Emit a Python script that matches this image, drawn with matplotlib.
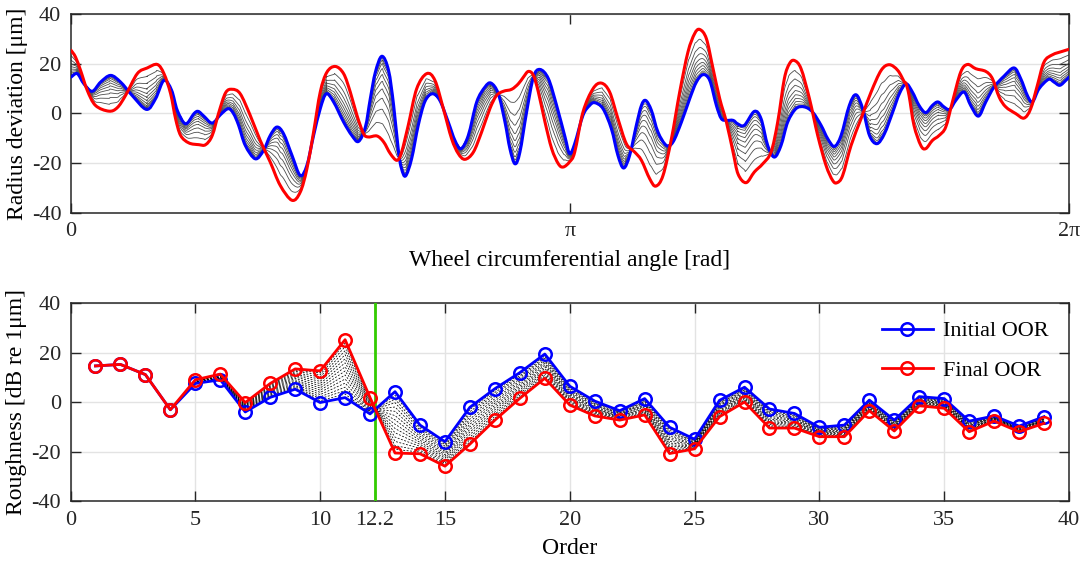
import numpy as np
import matplotlib
matplotlib.use("Agg")
import matplotlib.pyplot as plt
from matplotlib.path import Path
from matplotlib.patches import PathPatch

plt.rcParams['font.family'] = ['Liberation Serif', 'DejaVu Serif']
plt.rcParams['axes.unicode_minus'] = False

# ---------------- top panel data (angle in rad, radius deviation in um) ----------------
blue_theta = [0.000, 0.039, 0.081, 0.133, 0.186, 0.249, 0.312, 0.385, 0.475, 0.532, 0.585, 0.633, 0.669,
              0.721, 0.774, 0.801, 0.836, 0.889, 0.941, 0.990,
              1.023, 1.055, 1.097, 1.160, 1.212, 1.254, 1.296, 1.338, 1.391, 1.443, 1.485, 1.527, 1.569,
              1.607, 1.653, 1.716, 1.768, 1.810, 1.853, 1.884, 1.916, 1.957, 1.999, 2.031, 2.062,
              2.081, 2.106, 2.144, 2.186, 2.228, 2.275, 2.322, 2.375, 2.417, 2.455, 2.501, 2.554, 2.606,
              2.644, 2.690, 2.732, 2.763, 2.795, 2.826, 2.868, 2.911, 2.952, 3.005, 3.057, 3.110,
              3.139, 3.171, 3.223, 3.265, 3.297, 3.349, 3.402, 3.443, 3.479, 3.517, 3.559, 3.591, 3.618,
              3.654, 3.695, 3.748, 3.790, 3.843, 3.895, 3.937, 3.979, 4.021, 4.063, 4.094, 4.126, 4.168,
              4.197, 4.239, 4.302, 4.344, 4.386, 4.428, 4.470, 4.512, 4.564, 4.617, 4.669, 4.722, 4.764,
              4.806, 4.848, 4.900, 4.942, 4.984, 5.027, 5.074, 5.121, 5.173, 5.215, 5.257,
              5.297, 5.339, 5.381, 5.423, 5.458, 5.496, 5.532, 5.570, 5.622, 5.664, 5.713, 5.759, 5.811,
              5.874, 5.937, 5.979, 6.021, 6.053, 6.094, 6.154, 6.189, 6.225, 6.263, 6.283]
blue_r = [14.6, 16.0, 11.9, 8.9, 12.6, 15.3, 12.6, 7.2, 1.6, 5.9, 13.3, 9.3, 1.2,
          -4.2, -0.1, 0.8, -1.1, -3.9, -0.5, 1.9,
          -0.1, -4.8, -12.9, -18.3, -14.9, -8.9, -5.5, -8.2, -16.9, -25.0, -20.9, -8.9, 1.9,
          7.9, 4.6, -3.5, -8.9, -11.3, -5.5, 5.9, 16.6, 23.0, 17.3, 3.2, -15.6,
          -22.3, -25.2, -18.3, -4.8, 4.8, 7.9, 5.2, -3.5, -10.9, -14.2, -8.9, 4.6, 10.6,
          12.2, 7.9, -3.5, -14.2, -20.3, -15.6, 0.5, 14.6, 17.7, 14.0, 3.2, -9.5,
          -16.2, -12.2, -0.8, 3.2, 4.3, 1.9, -6.2, -16.9, -22.0, -16.9, -4.8, 3.2, 5.2,
          1.2, -7.5, -12.9, -11.5, -3.5, 5.9, 12.6, 15.6, 13.3, 3.2, -2.1, -2.8, -2.8,
          -4.2, -4.8, 0.8, -2.1, -12.9, -17.6, -12.9, -3.5, 1.9, 2.6, 0.5, -4.8, -10.2,
          -13.3, -8.9, 3.2, 7.5, 1.9, -8.9, -12.2, -8.2, 0.5, 7.9, 11.9,
          8.6, 3.2, 0.3, 3.2, 4.6, 2.6, 1.6, 5.2, 8.6, 3.2, -1.1, 4.6, 10.6,
          15.0, 18.3, 14.0, 7.2, 4.6, 9.9, 13.7, 12.6, 11.3, 13.3, 14.6]

red_theta = [0.000, 0.028, 0.060, 0.102, 0.154, 0.238, 0.291, 0.343, 0.417, 0.480, 0.543, 0.585, 0.627,
             0.658, 0.690, 0.742, 0.805, 0.847, 0.889, 0.931, 0.973, 1.015,
             1.065, 1.128, 1.191, 1.254, 1.317, 1.391, 1.443, 1.485, 1.527, 1.569, 1.611, 1.664, 1.716,
             1.758, 1.800, 1.842, 1.873, 1.926, 1.968, 2.010, 2.052,
             2.081, 2.123, 2.176, 2.239, 2.291, 2.344, 2.396, 2.438, 2.480, 2.533, 2.585, 2.637, 2.679,
             2.722, 2.774, 2.816, 2.848, 2.879, 2.911, 2.942, 2.984, 3.026, 3.068, 3.099,
             3.139, 3.171, 3.223, 3.286, 3.339, 3.391, 3.443, 3.496, 3.549, 3.591, 3.643, 3.681, 3.727,
             3.780, 3.832, 3.884, 3.926, 3.958, 4.000, 4.042, 4.084, 4.126, 4.168,
             4.200, 4.250, 4.302, 4.355, 4.407, 4.449, 4.491, 4.523, 4.554, 4.596, 4.649, 4.701, 4.753,
             4.795, 4.823, 4.858, 4.911, 4.974, 5.037, 5.100, 5.152, 5.205, 5.247, 5.257,
             5.276, 5.307, 5.350, 5.381, 5.423, 5.465, 5.507, 5.549, 5.601, 5.644, 5.696, 5.759, 5.801,
             5.843, 5.885, 5.948, 6.000, 6.042, 6.084, 6.126, 6.179, 6.242, 6.283]
red_r = [25.4, 22.7, 17.3, 9.3, 3.2, 0.9, 2.3, 7.2, 16.0, 18.3, 19.7, 16.0, 7.9,
         -2.1, -8.9, -11.9, -12.6, -12.6, -8.9, 0.5, 8.3, 9.7,
         7.9, -0.8, -10.9, -19.6, -29.0, -35.0, -31.7, -22.3, -7.5, 8.6, 16.6, 18.9, 16.0,
         8.6, -0.8, -8.2, -9.5, -9.1, -11.5, -16.2, -18.9,
         -15.6, -4.8, 9.9, 16.0, 13.3, 1.9, -10.2, -16.2, -18.5, -15.6, -7.5, 1.9, 7.2,
         8.9, 9.7, 11.9, 14.6, 16.9, 15.3, 8.6, -3.5, -14.2, -20.3, -21.6,
         -19.5, -15.6, 0.5, 9.9, 12.2, 8.6, -2.1, -12.2, -15.6, -18.9, -26.3, -29.3, -25.0,
         -10.2, 8.6, 24.7, 32.1, 33.8, 30.1, 18.0, 5.9, -3.5, -15.6,
         -24.5, -27.9, -23.6, -20.3, -15.6, -3.5, 14.0, 20.0, 21.3, 18.0, 5.9, -8.9, -20.9,
         -27.0, -27.9, -25.0, -12.9, -2.1, 8.6, 17.3, 19.6, 17.3, 12.6, 12.0,
         7.2, -4.8, -12.9, -14.2, -10.9, -8.9, -5.5, 4.6, 16.6, 19.7, 18.0, 16.9, 14.0,
         6.6, 2.6, -0.1, -1.9, 1.9, 11.3, 20.7, 23.6, 25.0, 25.8]

# ---------------- bottom panel data (order spectrum, dB re 1 um) ----------------
orders = list(range(1, 40))
initial_db = [14.7, 15.3, 11.2, -3.0, 7.6, 9.1, -3.9, 2.0, 5.3, -0.1, 1.9, -4.7, 4.3,
              -9.2, -15.9, -2.0, 5.5, 12.0, 19.5, 6.5, 0.5, -3.4, 1.5, -10.1, -14.9, 0.8,
              6.1, -2.7, -4.5, -10.1, -9.2, 0.9, -7.2, 2.3, 1.5, -7.6, -5.5, -9.6, -5.8]
final_db = [14.7, 15.3, 11.2, -3.0, 9.1, 11.4, -0.1, 7.6, 13.5, 12.7, 25.3, 1.9, -20.5,
            -20.8, -25.8, -16.9, -7.2, 1.6, 9.7, -1.1, -5.5, -7.2, -5.1, -20.7, -18.8, -5.8,
            0.1, -10.4, -10.4, -13.9, -13.9, -3.4, -11.6, -1.4, -2.4, -11.9, -7.6, -11.9, -8.5]

# intermediate iterations: fraction of the way from initial to final
iter_frac = [0.02, 0.05, 0.09, 0.15, 0.22, 0.30, 0.39, 0.50, 0.63, 0.80]
spec_frac = [0.06, 0.12, 0.18, 0.25, 0.32, 0.39, 0.46, 0.53, 0.60, 0.67, 0.74, 0.81, 0.88, 0.94]

cutoff_order = 12.2
xtick_vals = [0, 5, 10, 12.2, 15, 20, 25, 30, 35, 40]
xtick_labels = ['0', '5', '10', '12.2', '15', '20', '25', '30', '35', '40']


def smooth_curve(ax, x, y, **kw):
    """Draw a curve through the read points using matplotlib cubic Bezier segments."""
    pts = np.column_stack([x, y])
    P = np.vstack([pts[0], pts, pts[-1]])
    verts = [pts[0]]
    codes = [Path.MOVETO]
    for i in range(1, len(P) - 2):
        p0, p1, p2, p3 = P[i - 1], P[i], P[i + 1], P[i + 2]
        verts += [p1 + (p2 - p0) / 6.0, p2 - (p3 - p1) / 6.0, p2]
        codes += [Path.CURVE4] * 3
    patch = PathPatch(Path(verts, codes), fill=False, capstyle='round', joinstyle='round', **kw)
    ax.add_patch(patch)
    return patch


# ---------------- figure ----------------
fig = plt.figure(figsize=(10.83, 5.62), dpi=100)
ax1 = fig.add_axes([0.0656, 0.6215, 0.9215, 0.3535])
ax2 = fig.add_axes([0.0651, 0.108, 0.922, 0.3523])

spine_c = '#262626'
grid_c = '#e3e3e3'
tick_fs = 16
lab_fs = 17

# top panel
bt = np.array(blue_theta); br = np.array(blue_r)
rt = np.array(red_theta); rr = np.array(red_r)
th = np.union1d(bt, rt)
b_on = np.interp(th, bt, br)
r_on = np.interp(th, rt, rr)
for f in iter_frac:
    smooth_curve(ax1, th, b_on + f * (r_on - b_on), edgecolor='0.3', lw=0.6, zorder=2)
smooth_curve(ax1, bt, br, edgecolor='#0000ff', lw=2.2, zorder=3)
smooth_curve(ax1, rt, rr, edgecolor='#ff0000', lw=2.2, zorder=4)
ax1.set_xlim(0, 2 * np.pi)
ax1.set_ylim(-40, 40)
ax1.set_xticks([0, np.pi, 2 * np.pi])
ax1.set_xticklabels(['0', 'π', '2π'])
ax1.set_yticks([-40, -20, 0, 20, 40])
ax1.yaxis.grid(True, color=grid_c, lw=1.0)
ax1.set_axisbelow(True)
ax1.set_xlabel('Wheel circumferential angle [rad]', fontsize=lab_fs, labelpad=6)
ax1.set_ylabel('Radius deviation [μm]', fontsize=lab_fs, labelpad=3)

# bottom panel
ob = np.array(initial_db); of = np.array(final_db)
for f in spec_frac:
    ax2.plot(orders, ob + f * (of - ob), color='k', lw=0.55, ls=(0, (2.5, 2.0)), zorder=2)
ax2.axvline(cutoff_order, color='#33cc00', lw=2, zorder=3)
ax2.plot(orders, initial_db, color='#0000ff', lw=2, marker='o', ms=9, mfc='none',
         mew=1.8, label='Initial OOR', zorder=4)
ax2.plot(orders, final_db, color='#ff0000', lw=2, marker='o', ms=9, mfc='none',
         mew=1.8, label='Final OOR', zorder=5)
ax2.set_xlim(0, 40)
ax2.set_ylim(-40, 40)
ax2.set_xticks(xtick_vals)
ax2.set_xticklabels(xtick_labels)
ax2.set_yticks([-40, -20, 0, 20, 40])
ax2.grid(True, color=grid_c, lw=1.0)
ax2.set_axisbelow(True)
ax2.set_xlabel('Order', fontsize=lab_fs, labelpad=6)
ax2.set_ylabel('Roughness [dB re 1μm]', fontsize=lab_fs, labelpad=3)
leg = ax2.legend(loc='upper right', frameon=False, fontsize=tick_fs, handlelength=2.3,
                 borderaxespad=0.3, labelspacing=0.85, handletextpad=0.45,
                 bbox_to_anchor=(0.995, 0.99))

for ax in (ax1, ax2):
    for s in ax.spines.values():
        s.set_color(spine_c)
        s.set_linewidth(1.1)
    ax.tick_params(direction='in', length=7, width=1.0, top=True, right=True,
                   labelsize=tick_fs, colors=spine_c, labelcolor='#262626', pad=7)

fig.savefig('out.png', dpi=100)
